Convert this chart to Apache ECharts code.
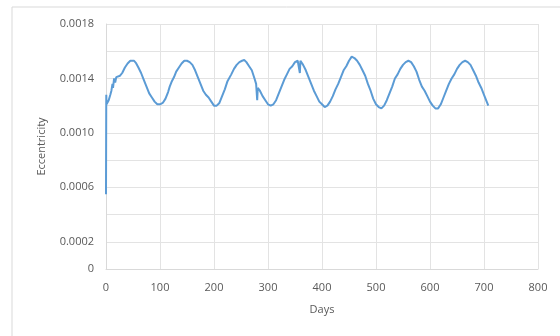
<!DOCTYPE html>
<html><head><meta charset="utf-8">
<script src="https://cdn.jsdelivr.net/npm/echarts@6/dist/echarts.min.js"></script>
<style>html,body{margin:0;padding:0;background:#fff}#c{width:560px;height:336px}</style>
</head><body><div id="c"></div>
<script>
const days = [0,0.5,1,5,8,10,12,13,15,17,19,22,26,30,35,40,45,48,52,56,60,65,70,75,80,85,90,95,100,
105,110,115,118,122,126,130,135,140,145,150,155,160,165,170,175,180,185,190,195,200,205,210,
215,220,225,228,232,237,242,247,252,256,260,265,270,275,278,280,281,285,290,295,300,305,310,
315,320,325,330,335,340,345,350,355,358,359,360,365,370,375,380,385,390,395,400,405,410,415,
420,425,430,435,440,445,450,455,460,465,470,475,480,485,490,495,500,505,510,515,
520,525,530,535,540,545,550,555,560,565,570,575,580,585,590,595,600,605,610,615,620,
625,630,635,640,645,650,655,660,665,670,675,680,685,690,695,700,705,708];
const ecc = [0.00055,0.00128,0.00121,0.00124,0.00128,0.00131,0.00136,0.00133,0.00140,0.00137,0.00141,0.00141,0.00142,0.00144,0.00148,0.00151,0.00153,0.001535,0.00153,0.00151,0.00148,0.00144,0.00139,0.00134,0.00129,0.00126,0.00123,0.00121,0.00121,
0.00122,0.00125,0.00130,0.00134,0.00138,0.00141,0.00145,0.00148,0.00151,0.00153,0.00153,0.00152,0.00150,0.00146,0.00141,0.00136,0.00131,0.00128,0.00126,0.00123,0.00120,0.00120,0.00122,
0.00127,0.00132,0.00138,0.00139,0.00143,0.00147,0.00150,0.00152,0.00153,0.001535,0.00152,0.00149,0.00146,0.00140,0.00136,0.00124,0.00133,0.00131,0.00127,0.00124,0.00121,0.00120,0.00121,
0.00124,0.00129,0.00134,0.00139,0.00143,0.00147,0.00149,0.00152,0.00153,0.00153,0.00144,0.00153,0.00150,0.00146,0.00141,0.00136,0.00131,0.00127,0.00123,0.00121,0.00119,0.00120,0.00123,
0.00127,0.00132,0.00136,0.00141,0.00146,0.00149,0.00153,0.00156,0.00155,0.00153,0.00150,0.00146,0.00142,0.00136,0.00131,0.00125,0.00121,0.00119,0.00118,0.00120,
0.00124,0.00129,0.00134,0.00140,0.00143,0.00147,0.00150,0.00152,0.00153,0.00152,0.00149,0.00145,0.00139,0.00134,0.00131,0.00127,0.00123,0.00120,0.00118,0.00118,0.00121,
0.00126,0.00131,0.00136,0.00140,0.00143,0.00147,0.00150,0.00152,0.00153,0.00152,0.00150,0.00146,0.00142,0.00137,0.00133,0.00128,0.00123,0.00120];
const yLabels = ['0','0.0002','0.0006','0.0010','0.0014','0.0018'];
const xTitle = 'Days';
const yTitle = 'Eccentricity';

const chart = echarts.init(document.getElementById('c'));
const txt = {color:'#595959', fontFamily:'Open Sans', fontSize:11};
chart.setOption({
  animation:false,
  graphic:[{type:'rect',shape:{x:12,y:7,width:560,height:340},style:{fill:'none',stroke:'#d9d9d9',lineWidth:1}}],
  grid:{left:106,right:22,top:24,bottom:67},
  xAxis:{type:'value',min:0,max:800,interval:100,
    name:xTitle,nameLocation:'middle',nameGap:35,nameTextStyle:Object.assign({},txt,{fontSize:11}),
    axisLine:{show:true,lineStyle:{color:'#d9d9d9'}},axisTick:{show:false},
    axisLabel:Object.assign({margin:13},txt),
    splitLine:{show:true,lineStyle:{color:'#e3e3e3'}}},
  yAxis:{type:'value',min:0,max:0.0018,interval:0.0002,
    name:yTitle,nameLocation:'middle',nameGap:59,nameRotate:90,nameTextStyle:Object.assign({},txt,{fontSize:11}),
    axisLine:{show:true,lineStyle:{color:'#d9d9d9'}},axisTick:{show:false},
    axisLabel:Object.assign({margin:12,formatter:function(v){
      const s = v===0?'0':v.toFixed(4);
      return yLabels.indexOf(s)>=0?s:'';
    }},txt),
    splitLine:{show:true,lineStyle:{color:'#e3e3e3'}}},
  series:[{type:'line',data:days.map((d,i)=>[d,ecc[i]]),showSymbol:false,
    lineStyle:{color:'#5B9BD5',width:2},itemStyle:{color:'#5B9BD5'}}]
});
</script></body></html>
